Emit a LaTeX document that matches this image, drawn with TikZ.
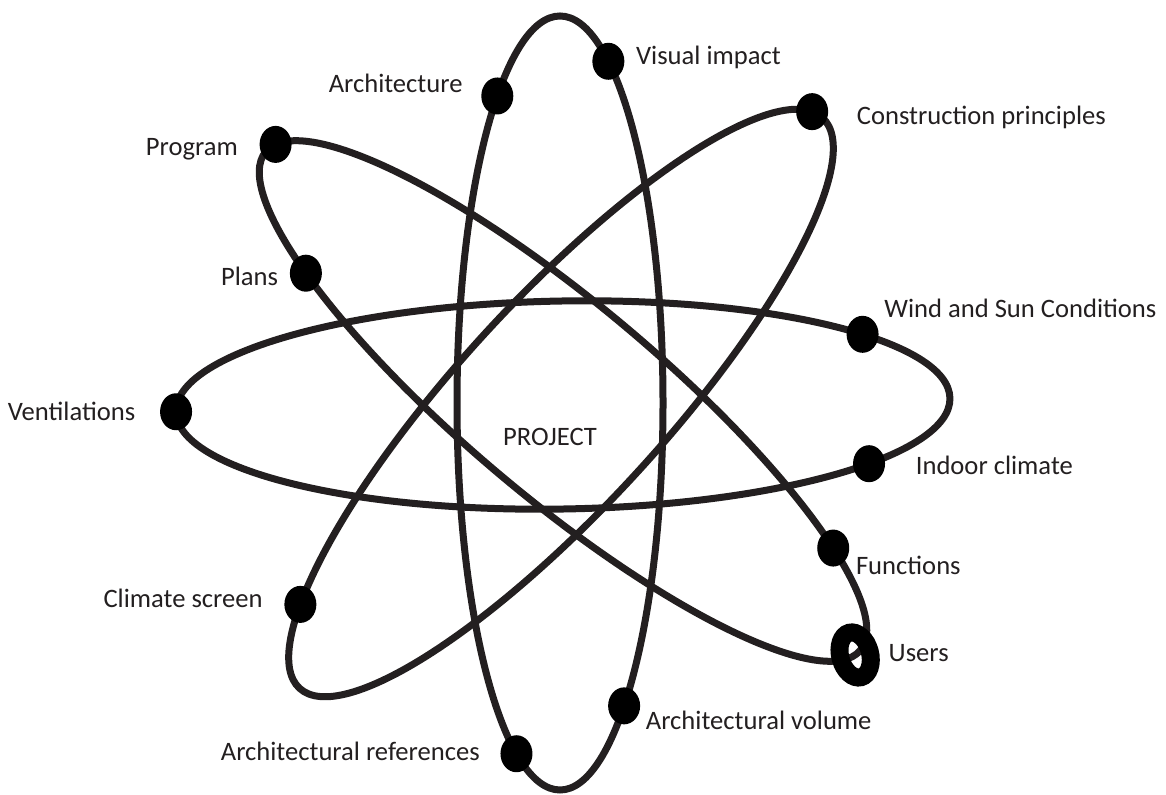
\documentclass[tikz,border=0pt]{standalone}
\usepackage{fontspec}
\setmainfont{Carlito}
\usetikzlibrary{shapes.geometric, positioning}
\definecolor{ink}{HTML}{231F20}

\begin{document}
\begin{tikzpicture}[
        x=0.5pt, y=0.5pt,
        every node/.style={font=\fontsize{13.3}{16}\selectfont},
        orbit/.style={draw=ink, line width=3.5pt},
        dot/.style={
            ellipse,
            fill=black,
            inner sep=0pt,
            minimum width=16pt,
            minimum height=18.5pt
        },
        ring/.style={
            ellipse,
            draw=black,
            line width=9pt,
            inner sep=0pt,
            minimum width=15pt,
            minimum height=23pt,
            rotate=15
        },
        lbl/.style={text=ink, inner sep=0pt}
    ]
    \useasboundingbox (0,0) rectangle (1166,-795);

    % Horizontal orbit
    \begin{scope}[shift={(563,-405)}, rotate=1]
        \draw[orbit] (0,0) ellipse [x radius=387, y radius=104];
        \node[dot] (dvent) at (180:387 and 104) {};
        \node[dot] (dwind) at (39:387 and 104) {};
        \node[dot] (dindoor) at (-38:387 and 104) {};
    \end{scope}

    % Vertical orbit
    \begin{scope}[shift={(560,-403)}]
        \draw[orbit] (0,0) ellipse [x radius=103, y radius=387];
        \node[dot] (darch) at (127.5:103 and 387) {};
        \node[dot] (dvis) at (62:103 and 387) {};
        \node[dot] (dvol) at (-51.5:103 and 387) {};
        \node[dot] (dref) at (-115:103 and 387) {};
    \end{scope}

    % Falling diagonal orbit
    \begin{scope}[shift={(563,-401)}, rotate=-40]
        \draw[orbit] (0,0) ellipse [x radius=388, y radius=97];
        \node[dot] (dprog) at (173:388 and 97) {};
        \node[dot] (dplans) at (224:388 and 97) {};
        \node[dot] (dfunc) at (39:388 and 97) {};
        \node[ring] (dusers) at (-4:388 and 97) {};
    \end{scope}

    % Rising diagonal orbit
    \begin{scope}[shift={(561,-403)}, rotate=47.5]
        \draw[orbit] (0,0) ellipse [x radius=387, y radius=103];
        \node[dot] (dcons) at (6.5:387 and 103) {};
        \node[dot] (dclim) at (147:387 and 103) {};
    \end{scope}

    % Labels
    \node[lbl] (proj) at (550,-437) {PROJECT};
    \node[lbl, left=9pt of darch, yshift=6.5pt] (larch) {Architecture};
    \node[lbl, right=5.5pt of dvis, yshift=2pt] (lvis) {Visual impact};
    \node[lbl, right=14pt of dcons, yshift=-3pt] (lcons) {Construction principles};
    \node[lbl, left=10.5pt of dprog, yshift=-2.5pt] (lprog) {Program};
    \node[lbl, left=5.5pt of dplans, yshift=-1.5pt] (lplans) {Plans};
    \node[lbl, right=2.5pt of dwind, yshift=13pt] (lwind) {Wind and Sun Conditions};
    \node[lbl, left=12pt of dvent] (lvent) {Ventilations};
    \node[lbl, right=15pt of dindoor, yshift=-1pt] (lindoor) {Indoor climate};
    \node[lbl, right=3pt of dfunc, yshift=-8.5pt] (lfunc) {Functions};
    \node[lbl, left=10.5pt of dclim, yshift=3pt] (lclim) {Climate screen};
    \node[lbl, right=5pt of dusers, yshift=-2pt] (lusers) {Users};
    \node[lbl, right=2.5pt of dvol, yshift=-7.5pt] (lvol) {Architectural volume};
    \node[lbl, left=10pt of dref, yshift=1pt] (lref) {Architectural references};

\end{tikzpicture}
\end{document}
